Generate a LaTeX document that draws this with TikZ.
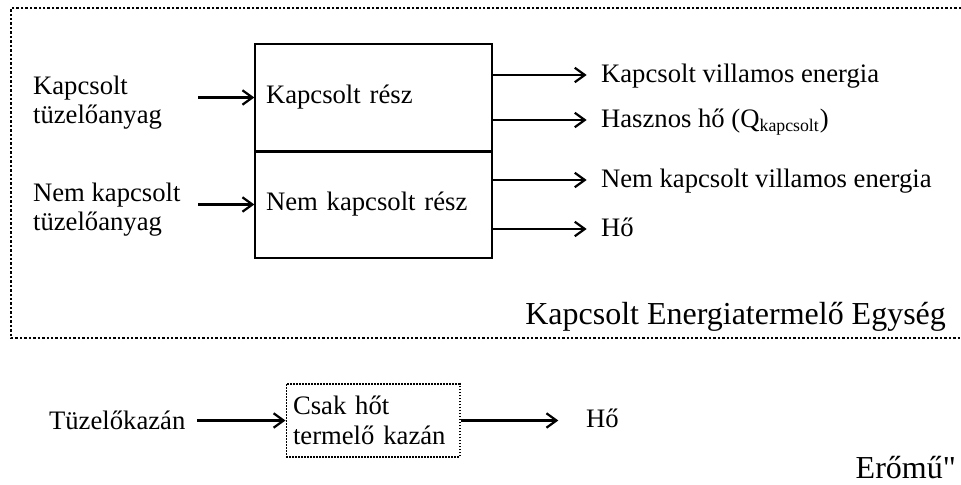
\documentclass[tikz,border=0pt]{standalone}
\usepackage{fontspec}
\setmainfont{Liberation Serif}
\usetikzlibrary{arrows.meta}
\begin{document}
\begin{tikzpicture}[x=0.45pt,y=-0.45pt,line width=1pt,>={Straight Barb[length=4.5pt,width=6.5pt]}]

	\tikzstyle{txt}=[font=\fontsize{12}{13}\selectfont,inner sep=0pt,align=left,anchor=west]
	\tikzstyle{lbl}=[font=\fontsize{12}{13}\selectfont,inner sep=0pt,text height=9pt,text depth=2.5pt,anchor=west]
	\tikzstyle{big}=[font=\fontsize{14.4}{16}\selectfont,inner sep=0pt,anchor=east]
	\tikzstyle{part}=[draw,line width=0.6pt,minimum width=106.65pt,minimum height=48.15pt,text width=96.75pt,inner xsep=4.95pt,align=left,font=\fontsize{12}{13}\selectfont]
	\tikzstyle{kazan}=[draw,line width=0.75pt,dash pattern=on 0.75pt off 0.6pt,minimum width=78pt,minimum height=32.85pt,text width=72pt,inner xsep=3pt,align=left,font=\fontsize{12}{13.5}\selectfont]
	\tikzstyle{frame}=[line width=1.1pt,dash pattern=on 1.1pt off 0.9pt]

	\useasboundingbox (0,0) rectangle (961,485);

	% egyseg kerete
	\draw[frame] (961,8) -- (11,8) -- (11,338) -- (961,338);

	\node[part] (kr) at (373.5,97.5) {Kapcsolt rész};
	\node[part] (nkr) at (373.5,204.5) {Nem kapcsolt rész};
	\draw[line width=1.5pt] (kr.south west) -- (kr.south east);

	\node[txt] (ka) at (32,102.5) {Kapcsolt\\tüzelőanyag};
	\node[txt] (nka) at (32,209.5) {Nem kapcsolt\\tüzelőanyag};
	\coordinate (kain) at (198,97.5);
	\coordinate (nkain) at (198,204.5);

	\node[lbl] (kve) at (600,75) {Kapcsolt villamos energia};
	\node[lbl] (hho) at (600,120) {Hasznos hő (Q\textsubscript{kapcsolt})};
	\node[lbl] (nkve) at (600,180) {Nem kapcsolt villamos energia};
	\node[lbl] (ho) at (600,229) {Hő};

	\node[big] (keg) at (947,317) {Kapcsolt Energiatermelő Egység};

	% kazan
	\node[txt] (tk) at (48,420) {Tüzelőkazán};
	\node[kazan] (csk) at (373,420.5) {Csak hőt\\termelő kazán};
	\coordinate (tkin) at (197,420.5);
	\node[lbl] (kho) at (585,420.5) {Hő};

	\node[big] (erm) at (957,468) {Erőmű\textquotedbl};

	\path[->] (kain) edge (kr.west)
		(nkain) edge (nkr.west)
		(kr.east |- kve.west) edge [shorten >=6pt] (kve.west)
		(kr.east |- hho.west) edge [shorten >=6pt] (hho.west)
		(nkr.east |- nkve.west) edge [shorten >=6pt] (nkve.west)
		(nkr.east |- ho.west) edge [shorten >=6pt] (ho.west)
		(tkin) edge (csk.west)
		(csk.east) edge [shorten >=12pt] (kho.west);

\end{tikzpicture}
\end{document}
